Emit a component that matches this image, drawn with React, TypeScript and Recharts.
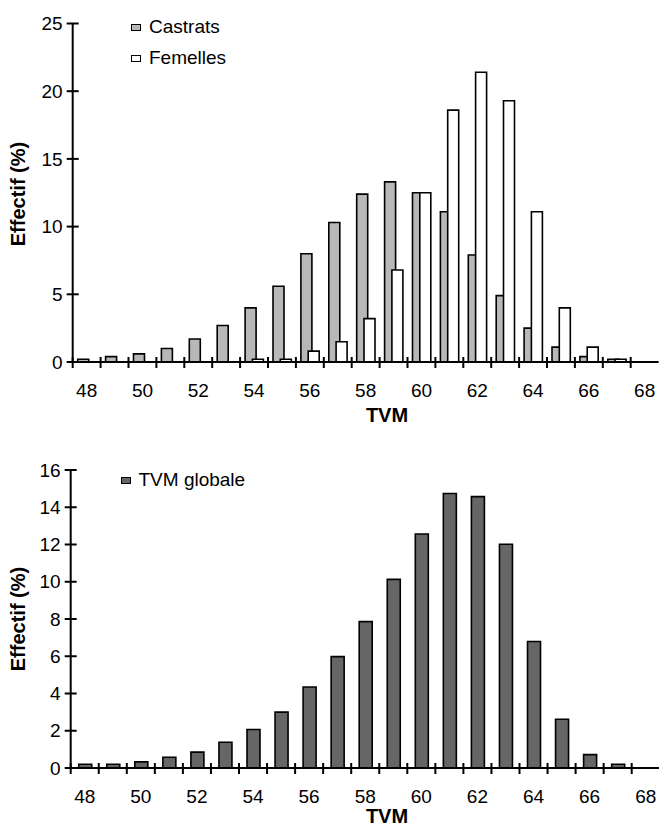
import React from "react";
import { Bar, BarChart, Label, Legend, XAxis, YAxis } from "recharts";

// TVM classes (one bar group per class)
const categories = [
  "48", "49", "50", "51", "52", "53", "54", "55", "56", "57", "58",
  "59", "60", "61", "62", "63", "64", "65", "66", "67", "68",
];

// Effectif (%) per class
const castrats = [
  0.2, 0.4, 0.6, 1.0, 1.7, 2.7, 4.0, 5.6, 8.0, 10.3, 12.4,
  13.3, 12.5, 11.1, 7.9, 4.9, 2.5, 1.1, 0.4, 0.2, 0,
];
const femelles = [
  0, 0, 0, 0, 0, 0, 0.2, 0.2, 0.8, 1.5, 3.2,
  6.8, 12.5, 18.6, 21.4, 19.3, 11.1, 4.0, 1.1, 0.2, 0,
];
const globale = [
  0.2, 0.2, 0.33, 0.58, 0.85, 1.38, 2.07, 3.0, 4.35, 5.98, 7.86,
  10.13, 12.56, 14.74, 14.57, 12.01, 6.79, 2.62, 0.72, 0.2, 0,
];

const topTicks = [0, 5, 10, 15, 20, 25];
const bottomTicks = [0, 2, 4, 6, 8, 10, 12, 14, 16];

const topData = categories.map((tvm, i) => ({
  tvm,
  castrats: castrats[i],
  femelles: femelles[i],
}));
const bottomData = categories.map((tvm, i) => ({ tvm, globale: globale[i] }));

const FONT = "'Liberation Sans', Arial, Helvetica, sans-serif";

// top chart frame
const TOP_W = 659;
const TOP_H = 440;
const TOP_MARGIN = { top: 23.5, right: 0.4, left: 12.7, bottom: 48 };
const TOP_BAND = (TOP_W - 72.7 - TOP_MARGIN.right) / categories.length;

// bottom chart frame
const BOT_W = 662;
const BOT_H = 387;
const BOT_MARGIN = { top: 30, right: 2.25, left: 10.7, bottom: 29 };
const BOT_BAND = (BOT_W - 70.7 - BOT_MARGIN.right) / categories.length;

// x ticks sit between the classes, labels every other class
function makeXTick(band: number) {
  return (props: any) => {
    const { x, y, payload } = props;
    const edge = x - band / 2;
    const show = Number(payload.value) % 2 === 0;
    return (
      <g>
        <line x1={edge} x2={edge} y1={y - 5} y2={y + 6} stroke="#000" strokeWidth={2} />
        {show && (
          <text x={x} y={y + 35} textAnchor="middle" fontSize={19} fontFamily={FONT} fill="#000">
            {payload.value}
          </text>
        )}
      </g>
    );
  };
}

const YTick = (props: any) => {
  const { x, y, payload } = props;
  return (
    <g>
      <line x1={x - 6} x2={x + 6} y1={y} y2={y} stroke="#000" strokeWidth={2} />
      <text x={x - 10} y={y} dy="0.35em" textAnchor="end" fontSize={19} fontFamily={FONT} fill="#000">
        {payload.value}
      </text>
    </g>
  );
};

function yTitle(cx: number, cy: number) {
  return () => (
    <text
      transform={`translate(${cx}, ${cy}) rotate(-90)`}
      textAnchor="middle"
      dy="0.35em"
      fontSize={20}
      fontWeight="bold"
      fontFamily={FONT}
      fill="#000"
    >
      Effectif (%)
    </text>
  );
}

function xTitle(cx: number, baseline: number) {
  return () => (
    <text x={cx} y={baseline} textAnchor="middle" fontSize={20} fontWeight="bold" fontFamily={FONT} fill="#000">
      TVM
    </text>
  );
}

const LegendBox = ({ payload }: any) => (
  <div style={{ fontFamily: FONT, fontSize: 19, color: "#000" }}>
    {(payload || []).map((entry: any) => (
      <div key={entry.value} style={{ display: "flex", alignItems: "center", height: 31 }}>
        <span
          style={{
            display: "inline-block",
            width: 10,
            height: 7,
            border: "1.5px solid #000",
            background: entry.color,
            marginRight: 8,
            boxSizing: "border-box",
          }}
        />
        <span>{entry.value}</span>
      </div>
    ))}
  </div>
);

export default function App() {
  return (
    <div
      style={{
        position: "absolute",
        left: 0,
        top: 0,
        width: 659,
        height: 827,
        overflow: "hidden",
        background: "#fff",
      }}
    >
      <div style={{ position: "absolute", left: 0, top: 0 }}>
        <BarChart width={TOP_W} height={TOP_H} data={topData} margin={TOP_MARGIN} barGap={-3.7} barCategoryGap={0}>
          <XAxis
            dataKey="tvm"
            height={30}
            interval={0}
            tickSize={0}
            tickMargin={0}
            tickLine={false}
            axisLine={{ stroke: "#000", strokeWidth: 2 }}
            tick={makeXTick(TOP_BAND)}
          >
            <Label content={xTitle(387, 421.5)} />
          </XAxis>
          <YAxis
            width={60}
            domain={[0, 25]}
            ticks={topTicks}
            interval={0}
            tickSize={0}
            tickMargin={0}
            tickLine={false}
            axisLine={{ stroke: "#000", strokeWidth: 2 }}
            tick={<YTick />}
          >
            <Label content={yTitle(17.5, 194)} />
          </YAxis>
          <Legend
            layout="horizontal"
            verticalAlign="middle"
            align="center"
            content={<LegendBox />}
            wrapperStyle={{ left: 131, top: 11.5, width: 200, height: 62 }}
          />
          <Bar
            dataKey="castrats"
            name="Castrats"
            fill="#b8b8b8"
            stroke="#000"
            strokeWidth={1.6}
            barSize={11}
            isAnimationActive={false}
          />
          <Bar
            dataKey="femelles"
            name="Femelles"
            fill="#ffffff"
            stroke="#000"
            strokeWidth={1.6}
            barSize={11}
            isAnimationActive={false}
          />
        </BarChart>
      </div>

      <div style={{ position: "absolute", left: 0, top: 440 }}>
        <BarChart width={BOT_W} height={BOT_H} data={bottomData} margin={BOT_MARGIN} barCategoryGap={0}>
          <XAxis
            dataKey="tvm"
            height={30}
            interval={0}
            tickSize={0}
            tickMargin={0}
            tickLine={false}
            axisLine={{ stroke: "#000", strokeWidth: 2 }}
            tick={makeXTick(BOT_BAND)}
          >
            <Label content={xTitle(387, 382.5)} />
          </XAxis>
          <YAxis
            width={60}
            domain={[0, 16]}
            ticks={bottomTicks}
            interval={0}
            tickSize={0}
            tickMargin={0}
            tickLine={false}
            axisLine={{ stroke: "#000", strokeWidth: 2 }}
            tick={<YTick />}
          >
            <Label content={yTitle(17.5, 179)} />
          </YAxis>
          <Legend
            layout="horizontal"
            verticalAlign="middle"
            align="center"
            content={<LegendBox />}
            wrapperStyle={{ left: 120.5, top: 24.5, width: 200, height: 31 }}
          />
          <Bar
            dataKey="globale"
            name="TVM globale"
            fill="#666666"
            stroke="#000"
            strokeWidth={1.6}
            barSize={13}
            isAnimationActive={false}
          />
        </BarChart>
      </div>
    </div>
  );
}
